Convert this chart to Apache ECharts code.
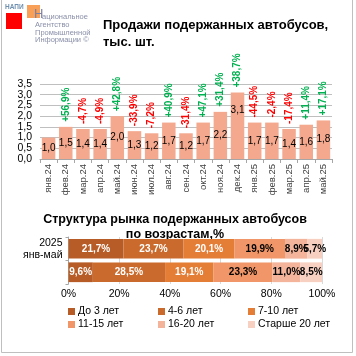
<!DOCTYPE html>
<html><head><meta charset="utf-8">
<script src="https://cdn.jsdelivr.net/npm/echarts@6/dist/echarts.min.js"></script>
<style>html,body{margin:0;padding:0;background:#fff}#c{width:356px;height:356px}</style>
</head><body><div id="c"></div>
<script>
var months = ['янв.24','фев.24','мар.24','апр.24','май.24','июн.24','июл.24','авг.24','сен.24','окт.24','ноя.24','дек.24','янв.25','фев.25','мар.25','апр.25','май.25'];
var sales = [1.0,1.5,1.4,1.4,2.0,1.3,1.2,1.7,1.2,1.7,2.2,3.1,1.7,1.7,1.4,1.6,1.8];
var changes = [null,56.9,-4.7,-4.9,42.8,-33.9,-7.2,40.9,-31.4,47.1,31.4,38.7,-44.5,-2.4,-17.4,11.4,17.1];
var yTicks = ['0,0','0,5','1,0','1,5','2,0','2,5','3,0','3,5'];

var periods = ['2024\nянв-май','2025\nянв-май'];
var ageGroups = ['До 3 лет','4-6 лет','7-10 лет','11-15 лет','16-20 лет','Старше 20 лет'];
var share2024 = [9.6,28.5,19.1,23.3,11.0,8.5];
var share2025 = [21.7,23.7,20.1,19.9,8.9,5.7];
var pctTicks = ['0%','20%','40%','60%','80%','100%'];

var FONT = "'Liberation Sans', Arial, sans-serif";
var ageColors = ['#B85C27','#CA6B2D','#E47D35','#F09668','#F4B49B','#F8D0C2'];
var ageLabelColors = ['#fff','#fff','#fff','#000','#000','#000'];
var comma = function(v){return v.toFixed(1).replace('.',',');};

var maxIdx = sales.indexOf(Math.max.apply(null, sales));
var salesData = sales.map(function(v,i){
  var d = {value: v};
  if (i === maxIdx) d.label = {position: 'insideTop', distance: 13};
  return d;
});
var pctData = sales.map(function(v,i){
  var c = changes[i];
  return {value: v, label: {show: c !== null, color: (c !== null && c >= 0) ? '#00B050' : '#FF0000'}};
});

var ageSeries = ageGroups.map(function(name, k){
  return {
    name: name, type: 'bar', stack: 'age', xAxisIndex: 1, yAxisIndex: 1,
    barCategoryGap: '16%',
    itemStyle: {color: ageColors[k]},
    label: {show: true, position: 'inside', fontFamily: FONT, fontSize: 10, fontWeight: 'bold',
      color: ageLabelColors[k], formatter: function(p){return comma(p.value) + '%';}},
    data: [share2024[k], share2025[k]]
  };
});

var chart = echarts.init(document.getElementById('c'), null, {renderer: 'canvas'});
var baseGraphic = [
    {type: 'line', shape: {x1: 1.5, y1: 0, x2: 1.5, y2: 352.5}, style: {stroke: '#BFBFBF', lineWidth: 1}},
    {type: 'line', shape: {x1: 352.5, y1: 0, x2: 352.5, y2: 352.5}, style: {stroke: '#BFBFBF', lineWidth: 1}},
    {type: 'line', shape: {x1: 1.5, y1: 352.5, x2: 352.5, y2: 352.5}, style: {stroke: '#BFBFBF', lineWidth: 1}},
    {type: 'rect', shape: {x: 6, y: 13, width: 16, height: 16}, style: {fill: '#FF0000'}},
    {type: 'rect', shape: {x: 27, y: 5, width: 13, height: 13}, style: {fill: '#F79646', opacity: 0.9}},
    {type: 'text', left: 5, top: 4, style: {text: 'НАПИ', fontSize: 6.5, fontWeight: 'bold', fill: '#6F8FAF', fontFamily: FONT}},
    {type: 'text', left: 34, top: 8, style: {text: 'Н', fontSize: 13, fill: '#7F7F9F', fontFamily: FONT}},
    {type: 'text', left: 42, top: 13, style: {text: 'ациональное', fontSize: 7.5, fill: '#8A8FA8', fontFamily: FONT}},
    {type: 'text', left: 35, top: 21, style: {text: 'Агентство\nПромышленной\nИнформации ©', fontSize: 7.5, lineHeight: 7.7, fill: '#8A8FA8', fontFamily: FONT}},
    {type: 'text', left: 103, top: 17, style: {text: 'Продажи подержанных автобусов,\nтыс. шт.', fontSize: 13, lineHeight: 17, fontWeight: 'bold', fill: '#000', fontFamily: FONT}},
    {type: 'text', x: 175, y: 212, style: {text: 'Структура рынка подержанных автобусов\nпо возрастам,%', fontSize: 12.5, lineHeight: 15, fontWeight: 'bold', fill: '#000', align: 'center', textAlign: 'center', fontFamily: FONT}}
];
chart.setOption({
  animation: false,
  backgroundColor: '#fff',
  textStyle: {fontFamily: FONT},
  graphic: baseGraphic,
  legend: {
    left: 63, top: 300, width: 280, itemWidth: 7, itemHeight: 7, itemGap: 0,
    icon: 'rect', data: ageGroups,
    textStyle: {fontFamily: FONT, fontSize: 10.5, color: '#000', width: 80, lineHeight: 13, padding: [0,0,0,-2]}
  },
  grid: [
    {left: 40, right: 24, top: 84, bottom: 197},
    {left: 68.5, right: 34, top: 237, bottom: 72}
  ],
  xAxis: [
    {type: 'category', gridIndex: 0, data: months,
      axisLine: {lineStyle: {color: '#A6A6A6'}},
      axisTick: {show: true, length: 4, lineStyle: {color: '#A6A6A6'}},
      axisLabel: {rotate: 90, fontFamily: FONT, fontSize: 9.5, color: '#404040', margin: 5, interval: 0}},
    {type: 'value', gridIndex: 1, min: 0, max: 100, interval: 20,
      axisLine: {show: false}, axisTick: {show: false},
      splitLine: {show: true, lineStyle: {color: '#D9D9D9'}},
      axisLabel: {fontFamily: FONT, fontSize: 10.5, color: '#000', margin: 5, showMinLabel: true, showMaxLabel: true,
        formatter: function(v){return pctTicks[Math.round(v/20)];}}}
  ],
  yAxis: [
    {type: 'value', gridIndex: 0, min: 0, max: 3.5, interval: 0.5,
      axisLine: {show: false}, axisTick: {show: false},
      splitLine: {lineStyle: {color: '#BFBFBF'}},
      axisLabel: {show: false}},
    {type: 'category', gridIndex: 1, data: periods,
      axisLine: {show: true, lineStyle: {color: '#A6A6A6'}},
      axisTick: {show: true, length: 3, lineStyle: {color: '#A6A6A6'}},
      axisLabel: {fontFamily: FONT, fontSize: 10.5, lineHeight: 12, color: '#000', margin: 6, align: 'right'}}
  ],
  series: [
    {type: 'bar', xAxisIndex: 0, yAxisIndex: 0, barWidth: 13.5,
      itemStyle: {color: '#F4A98F'},
      label: {show: true, position: 'inside', fontFamily: FONT, fontSize: 10, color: '#000',
        formatter: function(p){return comma(p.value);}},
      data: salesData, z: 2},
    {type: 'bar', xAxisIndex: 0, yAxisIndex: 0, barWidth: 13.5, barGap: '-100%',
      itemStyle: {color: 'rgba(0,0,0,0)'}, silent: true,
      label: {show: true, position: 'top', rotate: 90, align: 'left', verticalAlign: 'middle', distance: 5,
        fontFamily: FONT, fontSize: 10, fontWeight: 'bold',
        formatter: function(p){var c = changes[p.dataIndex]; return c === null ? '' : ((c > 0 ? '+' : '') + comma(c) + '%');}},
      data: pctData, z: 3}
  ].concat(ageSeries)
});
// Y tick labels of the top chart, placed through the axis scale
var xLabelRight = chart.convertToPixel({xAxisIndex: 0}, months[0]) - 8.6 - 8;
var tickTexts = yTicks.map(function(t){
  var v = parseFloat(t.replace(',', '.'));
  var py = chart.convertToPixel({yAxisIndex: 0}, v);
  return {type: 'text', x: xLabelRight, y: py, style: {text: t, fontSize: 10.5, fill: '#000', fontFamily: FONT,
    align: 'right', textAlign: 'right', verticalAlign: 'middle', textVerticalAlign: 'middle'}};
});
chart.setOption({graphic: baseGraphic.concat(tickTexts)}, {replaceMerge: ['graphic']});
</script></body></html>
